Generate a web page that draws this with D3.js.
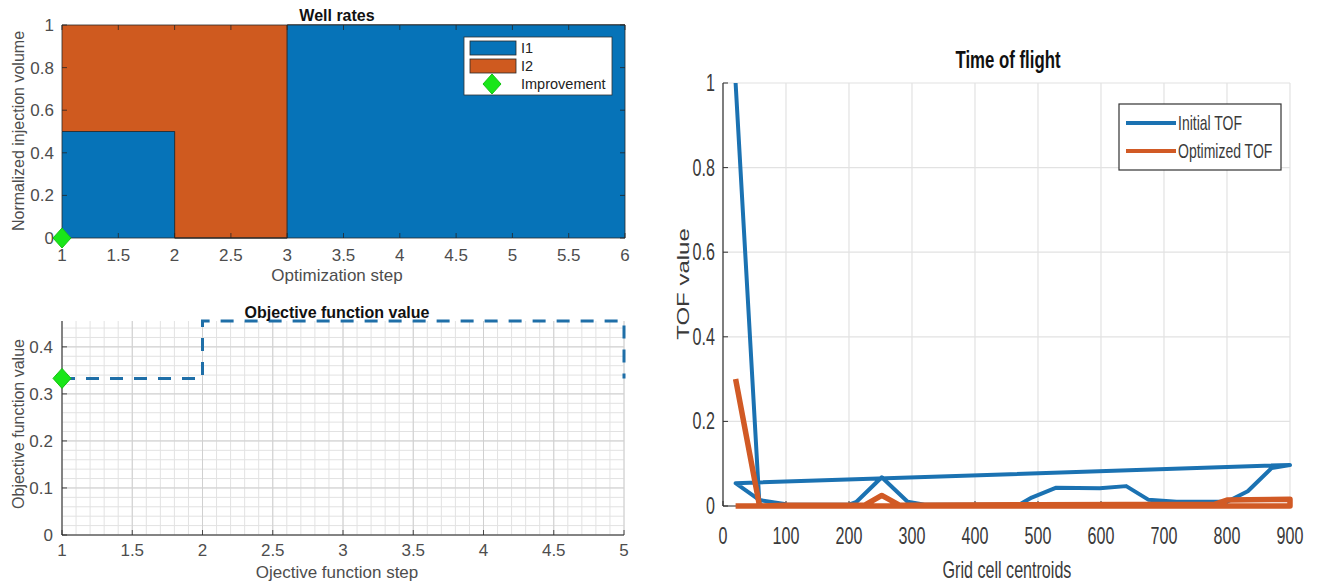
<!DOCTYPE html>
<html>
<head>
<meta charset="utf-8">
<script src="https://cdn.jsdelivr.net/npm/d3@7"></script>
<style>
  body { margin: 0; background: #fff; }
  text { font-family: "Liberation Sans", Arial, sans-serif; }
</style>
</head>
<body>
<script>
// -- data --

// well rates (stairs, one value per optimization step)
var rateSteps = [1, 2, 3, 4, 5, 6];
var rateI1 = [0.5, 0, 1, 1, 1, 1];
var rateI2 = [0.5, 1, 0, 0, 0, 0];
var rateTicksX = [1, 1.5, 2, 2.5, 3, 3.5, 4, 4.5, 5, 5.5, 6];
var rateTicksY = [0, 0.2, 0.4, 0.6, 0.8, 1];

// objective function
var objSteps = [1, 2, 3, 4, 5];
var objValues = [0.333, 0.455, 0.455, 0.455, 0.333];
var objTicksX = [1, 1.5, 2, 2.5, 3, 3.5, 4, 4.5, 5];
var objTicksY = [0, 0.1, 0.2, 0.3, 0.4];

// improvement markers
var improvementStep = [1];
var improvementRate = [0];
var improvementObj = [0.333];

// time of flight (drawn in the order of the grid cells)
var initialTofX = [20, 58, 100, 200, 212, 252, 293, 320, 470, 490, 528, 598, 640, 675, 720, 800, 833, 871, 900, 20, 58, 100];
var initialTofY = [1.0, 0.0, 0.003, 0.003, 0.01, 0.068, 0.01, 0.003, 0.003, 0.02, 0.043, 0.042, 0.047, 0.015, 0.01, 0.01, 0.035, 0.09, 0.097, 0.054, 0.014, 0.004];
var optimizedTofX = [20, 58, 100, 225, 252, 280, 500, 780, 800, 900, 900, 20];
var optimizedTofY = [0.3, 0.0, 0.002, 0.002, 0.025, 0.002, 0.003, 0.004, 0.014, 0.016, 0.0, 0.0];
var tofTicksX = [0, 100, 200, 300, 400, 500, 600, 700, 800, 900];
var tofTicksY = [0, 0.2, 0.4, 0.6, 0.8, 1];

// -- styles --
var blue = "#0673b8", orange = "#cf5a1f", green = "#19e619";
var ink = "#262626", tickInk = "#4d4d4d";
var SX = 0.7; // right panel text is squeezed horizontally

var svg = d3.select("body").append("svg")
    .attr("width", 1318).attr("height", 585);

function fmt(v) { return d3.format("~g")(v); }

function diamond(g, x, y) {
    var w = 9, h = 10;
    return g.append("path")
        .attr("d", "M" + x + "," + (y - h) + "L" + (x + w) + "," + y + "L" + x + "," + (y + h) + "L" + (x - w) + "," + y + "Z")
        .style("fill", green)
        .style("stroke", "#13c313")
        .style("stroke-width", 1);
}

// ---------- Well rates ----------
(function () {
    var x = d3.scaleLinear().domain([1, 6]).range([62, 625]);
    var y = d3.scaleLinear().domain([0, 1]).range([238, 25]);
    var g = svg.append("g");

    var rows = rateSteps.map(function (s, i) { return {s: s, a: rateI1[i], b: rateI2[i]}; });

    var area1 = d3.area().curve(d3.curveStepAfter)
        .x(function (d) { return x(d.s); })
        .y0(function () { return y(0); })
        .y1(function (d) { return y(d.a); });
    var area2 = d3.area().curve(d3.curveStepAfter)
        .x(function (d) { return x(d.s); })
        .y0(function (d) { return y(d.a); })
        .y1(function (d) { return y(d.a + d.b); });

    g.append("path").datum(rows).attr("d", area2)
        .style("fill", orange).style("stroke", "#2a2a2a").style("stroke-width", 0.8);
    g.append("path").datum(rows).attr("d", area1)
        .style("fill", blue).style("stroke", "#2a2a2a").style("stroke-width", 0.8);

    // inward ticks on all sides
    rateTicksX.forEach(function (t) {
        g.append("line").attr("x1", x(t)).attr("x2", x(t)).attr("y1", y(0)).attr("y2", y(0) - 5)
            .style("stroke", ink).style("stroke-width", 0.8);
        g.append("line").attr("x1", x(t)).attr("x2", x(t)).attr("y1", y(1)).attr("y2", y(1) + 5)
            .style("stroke", ink).style("stroke-width", 0.8);
        g.append("text").attr("x", x(t)).attr("y", 261)
            .attr("text-anchor", "middle").attr("font-size", "17px").attr("fill", tickInk)
            .text(fmt(t));
    });
    rateTicksY.forEach(function (t) {
        g.append("line").attr("x1", x(1)).attr("x2", x(1) + 5).attr("y1", y(t)).attr("y2", y(t))
            .style("stroke", ink).style("stroke-width", 0.8);
        g.append("line").attr("x1", x(6)).attr("x2", x(6) - 5).attr("y1", y(t)).attr("y2", y(t))
            .style("stroke", ink).style("stroke-width", 0.8);
        g.append("text").attr("x", 54).attr("y", y(t) + 6)
            .attr("text-anchor", "end").attr("font-size", "17px").attr("fill", tickInk)
            .text(fmt(t));
    });

    g.append("text").attr("x", 337).attr("y", 21)
        .attr("text-anchor", "middle").attr("font-size", "16px").attr("font-weight", "bold")
        .attr("fill", "#111").text("Well rates");
    g.append("text").attr("x", 337).attr("y", 281)
        .attr("text-anchor", "middle").attr("font-size", "17px").attr("fill", tickInk)
        .text("Optimization step");
    g.append("text").attr("transform", "translate(24,131) rotate(-90)")
        .attr("text-anchor", "middle").attr("font-size", "16px").attr("fill", tickInk)
        .text("Normalized injection volume");

    improvementStep.forEach(function (s, i) { diamond(g, x(s), y(improvementRate[i])); });

    // legend
    var lg = g.append("g");
    lg.append("rect").attr("x", 464).attr("y", 37).attr("width", 148).attr("height", 58)
        .style("fill", "white").style("stroke", "#333").style("stroke-width", 0.8);
    lg.append("rect").attr("x", 470).attr("y", 41).attr("width", 46).attr("height", 14)
        .style("fill", blue).style("stroke", "#2a2a2a").style("stroke-width", 0.8);
    lg.append("rect").attr("x", 470).attr("y", 59).attr("width", 46).attr("height", 14)
        .style("fill", orange).style("stroke", "#2a2a2a").style("stroke-width", 0.8);
    diamond(lg, 492, 84);
    [["I1", 53], ["I2", 71], ["Improvement", 89]].forEach(function (e) {
        lg.append("text").attr("x", 521).attr("y", e[1])
            .attr("font-size", "14.5px").attr("fill", "#222").text(e[0]);
    });
})();

// ---------- Objective function value ----------
(function () {
    var x = d3.scaleLinear().domain([1, 5]).range([62, 624]);
    var y = d3.scaleLinear().domain([0, 0.455]).range([535, 321]);
    var g = svg.append("g");

    // minor grid
    d3.range(1, 5.0001, 0.1).forEach(function (t) {
        g.append("line").attr("x1", x(t)).attr("x2", x(t)).attr("y1", y(0)).attr("y2", y(0.455))
            .style("stroke", "#e2e2e2").style("stroke-width", 1);
    });
    d3.range(0, 0.455, 0.02).forEach(function (t) {
        g.append("line").attr("x1", x(1)).attr("x2", x(5)).attr("y1", y(t)).attr("y2", y(t))
            .style("stroke", "#e2e2e2").style("stroke-width", 1);
    });
    // major grid
    objTicksX.forEach(function (t) {
        g.append("line").attr("x1", x(t)).attr("x2", x(t)).attr("y1", y(0)).attr("y2", y(0.455))
            .style("stroke", "#d0d0d0").style("stroke-width", 1);
    });
    objTicksY.forEach(function (t) {
        g.append("line").attr("x1", x(1)).attr("x2", x(5)).attr("y1", y(t)).attr("y2", y(t))
            .style("stroke", "#d0d0d0").style("stroke-width", 1);
    });

    // axes
    g.append("line").attr("x1", x(1)).attr("x2", x(1)).attr("y1", y(0)).attr("y2", y(0.455))
        .style("stroke", ink).style("stroke-width", 1);
    g.append("line").attr("x1", x(1)).attr("x2", x(5)).attr("y1", y(0)).attr("y2", y(0))
        .style("stroke", ink).style("stroke-width", 1);
    objTicksX.forEach(function (t) {
        g.append("line").attr("x1", x(t)).attr("x2", x(t)).attr("y1", y(0)).attr("y2", y(0) - 5)
            .style("stroke", ink).style("stroke-width", 0.8);
        g.append("text").attr("x", x(t)).attr("y", 556)
            .attr("text-anchor", "middle").attr("font-size", "17px").attr("fill", tickInk)
            .text(fmt(t));
    });
    objTicksY.forEach(function (t) {
        g.append("line").attr("x1", x(1)).attr("x2", x(1) + 5).attr("y1", y(t)).attr("y2", y(t))
            .style("stroke", ink).style("stroke-width", 0.8);
        g.append("text").attr("x", 53).attr("y", y(t) + 6)
            .attr("text-anchor", "end").attr("font-size", "17px").attr("fill", tickInk)
            .text(fmt(t));
    });

    var line = d3.line().curve(d3.curveStepAfter)
        .x(function (d, i) { return x(objSteps[i]); })
        .y(function (d) { return y(d); });
    g.append("path").datum(objValues).attr("d", line)
        .style("fill", "none").style("stroke", "#1f6fa8").style("stroke-width", 3)
        .style("stroke-dasharray", "13,11");

    improvementStep.forEach(function (s, i) { diamond(g, x(s), y(improvementObj[i])); });

    g.append("text").attr("x", 337).attr("y", 318)
        .attr("text-anchor", "middle").attr("font-size", "16px").attr("font-weight", "bold")
        .attr("fill", "#111").text("Objective function value");
    g.append("text").attr("x", 337).attr("y", 578)
        .attr("text-anchor", "middle").attr("font-size", "17px").attr("fill", tickInk)
        .text("Ojective function step");
    g.append("text").attr("transform", "translate(24,424) rotate(-90)")
        .attr("text-anchor", "middle").attr("font-size", "16px").attr("fill", tickInk)
        .text("Objective function value");
})();

// ---------- Time of flight ----------
(function () {
    var x = d3.scaleLinear().domain([0, 900]).range([723, 1290]);
    var y = d3.scaleLinear().domain([0, 1]).range([506, 83]);
    var g = svg.append("g");

    function squeezed(px, py, str, size, anchor, weight) {
        return g.append("text")
            .attr("transform", "translate(" + px + "," + py + ") scale(" + SX + ",1)")
            .attr("text-anchor", anchor).attr("font-size", size + "px")
            .attr("font-weight", weight || "normal").attr("fill", "#3a3a3a")
            .text(str);
    }

    // grid
    tofTicksX.forEach(function (t) {
        g.append("line").attr("x1", x(t)).attr("x2", x(t)).attr("y1", y(0)).attr("y2", y(1))
            .style("stroke", "#e2e2e2").style("stroke-width", 1.2);
    });
    tofTicksY.forEach(function (t) {
        g.append("line").attr("x1", x(0)).attr("x2", x(900)).attr("y1", y(t)).attr("y2", y(t))
            .style("stroke", "#e2e2e2").style("stroke-width", 1.2);
    });

    // axes
    g.append("line").attr("x1", x(0)).attr("x2", x(0)).attr("y1", y(0)).attr("y2", y(1))
        .style("stroke", "#333").style("stroke-width", 1.2);
    g.append("line").attr("x1", x(0)).attr("x2", x(900)).attr("y1", y(0)).attr("y2", y(0))
        .style("stroke", "#333").style("stroke-width", 1.2);
    tofTicksX.forEach(function (t) {
        g.append("line").attr("x1", x(t)).attr("x2", x(t)).attr("y1", y(0)).attr("y2", y(0) - 5)
            .style("stroke", "#333").style("stroke-width", 1);
        squeezed(x(t), 544, fmt(t), 23, "middle");
    });
    tofTicksY.forEach(function (t) {
        g.append("line").attr("x1", x(0)).attr("x2", x(0) + 5).attr("y1", y(t)).attr("y2", y(t))
            .style("stroke", "#333").style("stroke-width", 1);
        squeezed(715, y(t) + 8, fmt(t), 23, "end");
    });

    var line = d3.line()
        .x(function (d) { return x(d[0]); })
        .y(function (d) { return y(d[1]); });

    var optimized = optimizedTofX.map(function (v, i) { return [v, optimizedTofY[i]]; });
    var initial = initialTofX.map(function (v, i) { return [v, initialTofY[i]]; });

    g.append("path").datum(initial).attr("d", line)
        .style("fill", "none").style("stroke", "#1b72b2").style("stroke-width", 4)
        .style("stroke-linejoin", "round");
    g.append("path").datum(optimized).attr("d", line)
        .style("fill", "none").style("stroke", "#d15a25").style("stroke-width", 5.5)
        .style("stroke-linejoin", "round");

    squeezed(1008, 68, "Time of flight", 24, "middle", "bold").attr("fill", "#111");
    squeezed(1007, 578, "Grid cell centroids", 23, "middle");
    g.append("text")
        .attr("transform", "translate(689,284) rotate(-90) scale(1," + SX + ")")
        .attr("text-anchor", "middle").attr("font-size", "24px").attr("fill", "#3a3a3a")
        .text("TOF value");

    // legend
    g.append("rect").attr("x", 1119).attr("y", 104).attr("width", 162).attr("height", 66)
        .style("fill", "white").style("stroke", "#333").style("stroke-width", 1.2);
    g.append("line").attr("x1", 1126).attr("x2", 1176).attr("y1", 123).attr("y2", 123)
        .style("stroke", "#1b72b2").style("stroke-width", 4);
    g.append("line").attr("x1", 1126).attr("x2", 1176).attr("y1", 151).attr("y2", 151)
        .style("stroke", "#d15a25").style("stroke-width", 4);
    squeezed(1178, 130, "Initial TOF", 20, "start");
    squeezed(1178, 158, "Optimized TOF", 20, "start");
})();
</script>
</body>
</html>
